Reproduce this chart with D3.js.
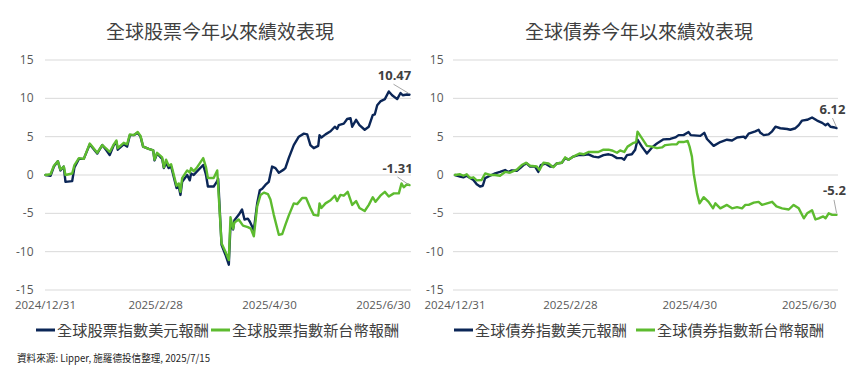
<!DOCTYPE html>
<html><head><meta charset="utf-8">
<script src="https://cdn.jsdelivr.net/npm/d3@7"></script>
<style>
html,body{margin:0;padding:0;background:#fff;}
svg{display:block;}
</style></head>
<body>
<svg id="c" width="865" height="370"></svg>
<script>
// ---------- data ----------
const xTickDays = [0, 59, 120, 181];
const xTickLabels = ["2024/12/31", "2025/2/28", "2025/4/30", "2025/6/30"];
const yTicks = [-15, -10, -5, 0, 5, 10, 15];
const lastDay = 195;

const titles = ["全球股票今年以來績效表現", "全球債券今年以來績效表現"];
const legendNames = [
  ["全球股票指數美元報酬", "全球股票指數新台幣報酬"],
  ["全球債券指數美元報酬", "全球債券指數新台幣報酬"]
];
const sourceText = "資料來源: Lipper, 施羅德投信整理, 2025/7/15";

// Global equity, USD return (days since 2024/12/31, %)
const eqUsdDays = [0,2.7,4.5,6.6,8,9.8,10.7,14.3,15.5,17.9,20.5,23.7,27.7,30.4,32.7,34.4,36.6,38,38.7,41.9,43.7,45.2,47.3,49.4,50.9,52.3,55.3,57.7,58.4,59.8,62.5,63.4,64.6,66,67.3,70.2,71.4,72.3,73.2,75.9,77.3,78,79.4,80.9,84.5,86,87,90.1,91.5,92.5,94.3,96.4,98.2,99.1,100.5,101.2,103.5,105.3,106.6,108.4,109.5,111.6,113.4,114.8,116.1,117.8,119.6,121.4,123.2,125,127.6,128.5,130.3,133,135.7,138.4,140.2,141.9,143.7,146.1,146.8,147.8,150,152.7,155,156.2,157.1,159.8,161.6,163.4,164.3,166.4,168.2,171,173.2,175.3,176.4,177.7,179.4,181.8,183.9,185.7,188.4,190.2,191.4,193.7,195];
const eqUsdVals = [0,-0.1,1.1,1.8,0.6,1.1,-0.9,-0.8,1.0,2.1,2.1,4.0,2.8,3.9,3.2,2.6,3.9,4.3,3.3,4.0,3.7,5.2,5.2,5.5,5.0,3.7,3.4,3.2,1.9,2.8,2.1,0.9,1.6,0.9,1.1,-1.7,-1.5,-2.6,-0.9,0,-0.7,0.2,0,0.4,1.3,0.0,-1.5,-1.5,-1.0,-0.5,-9.1,-10.4,-11.7,-6.5,-7.1,-5.9,-5.2,-4.5,-5.8,-5.7,-6.1,-7.2,-3.7,-2.0,-1.8,-1.3,-0.9,1.1,0.9,0.3,0.7,0.9,2.2,3.9,5.0,5.4,5.3,3.9,3.5,3.8,5.2,4.9,5.3,5.7,6.3,6.0,6.5,6.7,7.3,7.4,6.3,7.2,6.5,5.9,6.3,7.8,7.9,9.1,9.6,9.9,10.9,10.4,9.9,10.7,10.4,10.5,10.47];

// Global equity, TWD return
const eqTwdDays = [0,2.7,4.5,6.6,8,9.8,10.7,14.3,15.5,17.9,20.5,23.7,27.7,30.4,32.7,34.4,36.6,38,38.7,41.9,43.7,45.2,47.3,49.4,50.9,52.3,55.3,57.7,58.4,59.8,62.5,63.4,64.6,66,67.3,70.2,71.4,72.3,73.2,75.9,77.3,78,79.4,80.9,84.5,86,87,90.1,92,94.3,96.4,98.2,99.1,100.5,101.2,103.5,105.8,108.4,110,111.6,113.4,115.2,117,119.2,120.5,122.3,125,126.8,128.5,130.3,133,134.8,137.5,139.6,141.9,143.7,146.1,146.8,147.8,150,152.7,155,156.2,158,159.8,161.9,164.3,166.4,168.2,171,173.2,175.3,176.8,179.4,181.8,183.9,186.6,189.3,190.7,191.9,193.7,195];
const eqTwdVals = [0,0.1,1.2,1.8,0.7,1.1,0.0,0.2,1.3,2.2,2.1,4.1,2.9,3.9,3.4,3.0,4.0,4.5,3.5,4.2,4.0,5.3,5.2,5.6,5.1,3.7,3.4,3.2,2.0,2.9,2.3,1.0,2.0,1.2,1.4,-1.4,-1.1,-2.2,-0.4,0.6,0.3,0.9,0.5,0.9,2.2,1.0,-0.4,-0.4,0.6,-8.9,-10.0,-11.1,-5.5,-7.0,-6.2,-5.8,-6.6,-6.8,-7.0,-8.0,-4.1,-2.6,-2.3,-2.5,-3.2,-5.2,-7.8,-7.7,-6.5,-5.3,-3.7,-3.8,-3.0,-3.0,-4.3,-5.2,-5.3,-3.7,-4.3,-3.7,-3.3,-2.7,-3.4,-2.6,-2.7,-2.2,-3.9,-3.4,-4.3,-4.7,-3.9,-2.9,-3.5,-2.7,-2.2,-2.8,-2.4,-2.4,-1.1,-1.6,-1.2,-1.31];

// Global bonds, USD return
const bdUsdDays = [0,2.6,4.3,6,7.7,9.4,11.1,12.8,14.2,15.4,17.9,20.5,23,25.6,27.3,29,31.6,33.3,35,36.7,38.4,40.9,42.6,43.9,46.1,48.6,50.3,52,54.6,56.3,58,60.5,63.1,65.7,68.2,70.8,73.3,75.9,78.5,80.2,82.8,85.3,86.5,87.9,90.4,92.1,93.3,95.5,98.1,100.7,103.2,106.6,110,112.6,114.3,116.8,119.4,120.5,125.4,127.4,128.8,132.2,135.6,139,141.6,144.2,147.6,148.4,150.1,153.5,155.2,156.1,157.8,160.3,162.1,163.8,166.3,169.8,171.4,174,175.7,177.4,180,182.5,185.1,187.7,189.4,190.5,191.9,194,195];
const bdUsdVals = [0,-0.2,-0.3,-0.1,-0.4,-0.65,-1.2,-1.5,-1.4,-0.4,-0.1,0.2,0.4,0.65,0.4,0.6,0.55,0.9,1.3,1.5,1.1,1.1,0.4,1.3,1.5,1.1,1.1,1.5,1.6,2.2,2.0,2.4,2.6,2.6,2.7,2.4,2.3,2.6,2.7,2.6,2.2,2.2,2.0,2.6,2.7,3.3,4.6,3.7,2.8,3.6,4.1,4.65,4.7,4.9,5.2,5.2,5.6,5.2,5.1,5.5,4.7,3.8,4.3,4.6,4.5,4.9,5.0,4.8,5.4,5.7,5.9,5.5,5.2,5.3,5.7,6.3,6.1,6.0,5.9,6.1,6.5,7.1,7.2,7.5,7.1,6.8,6.5,6.7,6.3,6.2,6.12];

// Global bonds, TWD return
const bdTwdDays = [0,2.6,4.3,6,7.7,9.4,11.1,13.6,15.4,17.9,20.5,23,25.6,28.1,31.6,34.1,36.3,38.4,41.8,43.2,45.2,47.8,50.3,52,54.6,56.3,58,60.5,63.6,65.7,68.2,70.8,73.3,75.9,78.5,80.2,82.8,84.4,86.5,88.2,91.3,92.6,93.3,95.5,98.1,100.7,103.2,105.8,107.5,110.9,113.4,114.3,116.8,118.9,119.9,121.1,122,123.7,125,127.1,129.6,131.9,133.1,135.6,139,141.6,144.2,146.7,148.4,150.1,152.7,155.2,156.9,159.5,162.1,164.3,167.2,170.6,173.1,175.7,178.3,180,182.5,184.2,185.9,188.2,189.4,191,192.8,195];
const bdTwdVals = [0,0.1,-0.1,0.1,-0.4,-0.3,-0.7,-0.65,0.2,0,0,-0.1,0.4,0.3,0.7,1.3,1.6,1.2,1.1,0.65,1.6,1.5,1.0,1.5,1.6,2.3,2.0,2.4,2.8,2.7,3.0,3.0,3.0,3.3,3.3,3.2,2.9,3.2,3.0,3.7,4.2,4.3,5.65,4.8,3.8,3.7,3.5,3.6,3.9,4.0,4.0,4.3,4.3,4.45,3.7,2.4,0.2,-2.4,-3.7,-2.9,-3.5,-4.35,-3.7,-4.35,-3.9,-4.35,-4.2,-4.35,-3.9,-3.9,-3.6,-3.5,-3.9,-3.7,-3.5,-4.1,-4.35,-4.5,-3.9,-4.35,-5.65,-5.0,-4.6,-5.8,-5.65,-5.4,-5.65,-5.0,-5.2,-5.2];

const endLabels = [["10.47", "-1.31"], ["6.12", "-5.2"]];

// ---------- styles ----------
const NAVY = "#0b2657";
const GREEN = "#5dbb2f";
const TXT = "#404040";
const AXT = "#595959";
const CJK = "'Noto Sans CJK TC','Noto Sans CJK SC',sans-serif";
const LAT = "'Open Sans','Noto Sans',sans-serif";

const svg = d3.select("#c");

const panels = [
  { title: titles[0], names: legendNames[0], cx: 220,
    series: [[eqUsdDays, eqUsdVals], [eqTwdDays, eqTwdVals]], labels: endLabels[0],
    xr: [45.5, 409.5], grid: [45, 411], ylabX: 33.5,
    lab: [{dx: -15, dy: -14.5, l: [[-16, -10.5], [-1, -1.5]]}, {dx: -12, dy: -12, l: [[-12, -8], [-1, -0.5]]}],
    leg: [36, 211] },
  { title: titles[1], names: legendNames[1], cx: 639,
    series: [[bdUsdDays, bdUsdVals], [bdTwdDays, bdTwdVals]], labels: endLabels[1],
    xr: [455, 836.5], grid: [453, 838], ylabX: 443.5,
    lab: [{dx: -4, dy: -14, l: [[-4, -10], [0, -1]]}, {dx: -2, dy: -20, l: [[-2.5, -15], [0, -2]]}],
    leg: [454, 636] }
];

const y = d3.scaleLinear().domain([-15, 15]).range([290, 60]);

panels.forEach((p, pi) => {
  const g = svg.append("g");
  const x = d3.scaleLinear().domain([0, lastDay]).range(p.xr);

  // title
  g.append("text").attr("x", p.cx).attr("y", 38.5)
    .attr("text-anchor", "middle").attr("font-family", CJK)
    .attr("font-size", 19).attr("font-weight", 400).attr("fill", TXT)
    .text(p.title);

  // grid
  g.selectAll("line.grid").data(yTicks).enter().append("line")
    .attr("x1", p.grid[0]).attr("x2", p.grid[1])
    .attr("y1", d => y(d)).attr("y2", d => y(d))
    .attr("stroke", "#d9d9d9").attr("stroke-width", 1);

  // y labels
  g.selectAll("text.yl").data(yTicks).enter().append("text")
    .attr("x", p.ylabX).attr("y", d => y(d) + 4)
    .attr("text-anchor", "end").attr("font-family", LAT)
    .attr("font-size", 12).attr("fill", AXT)
    .text(d => d);

  // x labels
  g.selectAll("text.xl").data(xTickDays).enter().append("text")
    .attr("x", d => x(d)).attr("y", 309)
    .attr("text-anchor", "middle").attr("font-family", LAT)
    .attr("font-size", 11.5).attr("fill", AXT)
    .text((d, i) => xTickLabels[i]);

  // lines
  const colors = [NAVY, GREEN];
  p.series.forEach((s, si) => {
    const pts = s[0].map((d, i) => [d, s[1][i]]);
    const line = d3.line().x(d => x(d[0])).y(d => y(d[1]));
    g.append("path").attr("d", line(pts))
      .attr("fill", "none").attr("stroke", colors[si])
      .attr("stroke-width", 2.4).attr("stroke-linejoin", "round")
      .attr("stroke-linecap", "round");
  });

  // end labels
  p.series.forEach((s, si) => {
    const ex = x(s[0][s[0].length - 1]);
    const ey = y(s[1][s[1].length - 1]);
    const L = p.lab[si];
    g.append("line")
      .attr("x1", ex + L.l[0][0]).attr("y1", ey + L.l[0][1])
      .attr("x2", ex + L.l[1][0]).attr("y2", ey + L.l[1][1])
      .attr("stroke", "#a6a6a6").attr("stroke-width", 1);
    g.append("text").attr("x", ex + L.dx).attr("y", ey + L.dy)
      .attr("text-anchor", "middle").attr("font-family", LAT)
      .attr("font-size", 13).attr("font-weight", 700).attr("fill", TXT)
      .text(p.labels[si]);
  });

  // legend
  p.names.forEach((nm, li) => {
    const lx = p.leg[li];
    g.append("line").attr("x1", lx).attr("x2", lx + 19)
      .attr("y1", 330).attr("y2", 330)
      .attr("stroke", colors[li]).attr("stroke-width", 3);
    g.append("text").attr("x", lx + 21).attr("y", 335.5)
      .attr("font-family", CJK).attr("font-size", 15.2).attr("fill", TXT)
      .text(nm);
  });
});

svg.append("text").attr("x", 17).attr("y", 362)
  .attr("font-family", CJK).attr("font-size", 10.5).attr("fill", "#262626")
  .attr("textLength", 193).attr("lengthAdjust", "spacingAndGlyphs")
  .text(sourceText);
</script>
</body></html>
